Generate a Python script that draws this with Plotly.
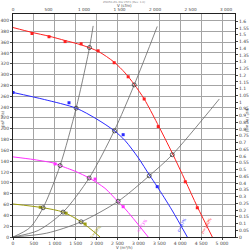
import plotly.graph_objects as go

# ---- data ----
# fan curves: volume flow V (m3/h) vs static pressure (Pa)
red_v = [0, 455, 862, 1246, 1629, 2036, 2420, 2683, 2899, 3138, 3450, 3809, 4121, 4408, 4768]
red_p = [387, 378, 371, 363, 355, 343, 323, 303, 282, 255, 210, 155, 104, 56, 0]
red_mv = [455, 862, 1246, 1629, 2036, 2420, 2755, 3138, 3474, 4121, 4408]
red_mp = [376, 370, 361, 357, 344, 322, 296, 255, 204, 102, 54]

blue_v = [0, 750, 1510, 2000, 2428, 2683, 3000, 3258, 3450, 3800, 4169]
blue_p = [267, 254, 238, 218, 196, 178, 146, 115, 93, 50, 0]
blue_mv = [0, 1340, 2635, 3450]
blue_mp = [267, 248, 189, 93]

mag_v = [0, 500, 1006, 1126, 1500, 1821, 2200, 2515, 2683, 3234]
mag_p = [148, 143, 136, 132, 121, 109, 90, 65, 52, 0]
mag_mv = [1006, 1965, 2635]
mag_mp = [135, 107, 56]

oli_v = [0, 720, 1198, 1629, 2084]
oli_p = [61, 54, 46, 28, 0]
oli_mv = [650, 1270, 1725]
oli_mp = [55, 44, 24]

# system curves (grey)
sysA_v = [0, 400, 720, 1126, 1510, 1830, 1917]
sysA_p = [0, 17, 54, 132, 238, 350, 390]
sysB_v = [0, 600, 1198, 1821, 2420, 2899, 3450]
sysB_p = [0, 12, 46, 109, 196, 281, 389]
sysC_v = [0, 800, 1629, 2515, 3258, 3809, 4935]
sysC_p = [0, 7, 28, 66, 113, 152, 255]

# operating points (intersections)
op_v = [720, 1126, 1510, 1830, 1198, 1821, 2428, 2899, 1629, 2515, 3258, 3809]
op_p = [54, 132, 238, 350, 46, 109, 196, 281, 28, 66, 113, 152]

# axis ticks
x_ticks = [0, 500, 1000, 1500, 2000, 2500, 3000, 3500, 4000, 4500, 5000]
x_labels = ["0", "500", "1 000", "1 500", "2 000", "2 500", "3 000", "3 500", "4 000", "4 500", "5 000"]
cfm_ticks = [0, 500, 1000, 1500, 2000, 2500, 3000]
cfm_labels = ["0", "500", "1 000", "1 500", "2 000", "2 500", "3 000"]
pa_ticks = list(range(0, 401, 20))
inwg_ticks = [round(i * 0.05, 2) for i in range(0, 33)]
inwg_labels = ["0"] + [("%g" % t) for t in inwg_ticks[1:]]

X_MAX = 5310
Y_MAX = 412
CFM_PER_M3H = 1 / 1.699
PA_PER_INWG = 249.09

RED = "#ff2020"
BLUE = "#2a2aff"
MAG = "#ff30ff"
OLI = "#9c9c10"
GREY = "#666666"

fig = go.Figure()

def curve(v, p, color, width=1.0):
    fig.add_trace(go.Scatter(x=v, y=p, mode="lines", line=dict(color=color, width=width, shape="spline", smoothing=0.8),
                             hoverinfo="skip", showlegend=False))

def marks(v, p, color):
    fig.add_trace(go.Scatter(x=v, y=p, mode="markers", marker=dict(symbol="square", size=3, color=color),
                             hoverinfo="skip", showlegend=False))

for v, p in [(sysA_v, sysA_p), (sysB_v, sysB_p), (sysC_v, sysC_p)]:
    curve(v, p, GREY, 0.8)

curve(red_v, red_p, RED)
curve(blue_v, blue_p, BLUE)
curve(mag_v, mag_p, MAG)
curve(oli_v, oli_p, OLI)
marks(red_mv, red_mp, RED)
marks(blue_mv, blue_mp, BLUE)
marks(mag_mv, mag_mp, MAG)
marks(oli_mv, oli_mp, OLI)

fig.add_trace(go.Scatter(x=op_v, y=op_p, mode="markers",
                         marker=dict(symbol="circle-open", size=4, color="#333333", line=dict(width=0.8)),
                         hoverinfo="skip", showlegend=False))

# invisible trace for secondary axes
fig.add_trace(go.Scatter(x=[0], y=[0], xaxis="x2", yaxis="y2", mode="markers", marker=dict(opacity=0),
                         hoverinfo="skip", showlegend=False))

tickfont = dict(family="DejaVu Sans", size=4.5, color="#444444")
toptickfont = dict(family="DejaVu Sans", size=4.2, color="#444444")
gridc = "#a4a4a4"

fig.update_layout(
    width=250, height=250,
    margin=dict(l=13, r=15, t=14, b=13, autoexpand=False),
    paper_bgcolor="white", plot_bgcolor="white",
    xaxis=dict(range=[0, X_MAX], tickvals=x_ticks, ticktext=x_labels, tickfont=tickfont,
               showgrid=True, gridcolor=gridc, gridwidth=0.8, zeroline=False,
               showline=True, linecolor="#222222", linewidth=1, mirror=False,
               ticks="outside", ticklen=2, tickcolor="#444444", tickwidth=0.6),
    xaxis2=dict(range=[0, X_MAX * CFM_PER_M3H], overlaying="x", side="top", tickvals=cfm_ticks, ticktext=cfm_labels,
                tickfont=toptickfont, showgrid=False, zeroline=False, showline=True, linecolor="#222222", linewidth=1,
                ticks="", ticklen=0),
    yaxis=dict(range=[0, Y_MAX], tickvals=pa_ticks, ticktext=[str(t) for t in pa_ticks], tickfont=tickfont,
               showgrid=True, gridcolor=gridc, gridwidth=0.8, zeroline=False,
               showline=True, linecolor="#222222", linewidth=1,
               ticks="outside", ticklen=2, tickcolor="#444444", tickwidth=0.6),
    yaxis2=dict(range=[0, Y_MAX / PA_PER_INWG], overlaying="y", side="right", tickvals=inwg_ticks, ticktext=inwg_labels,
                tickfont=tickfont, showgrid=False, zeroline=False, showline=True, linecolor="#222222", linewidth=1,
                ticks="outside", ticklen=2, tickcolor="#444444", tickwidth=0.6),
)

ann_font = dict(family="DejaVu Sans", size=4, color="#444444")
fig.add_annotation(text="V (m³/h)", xref="paper", yref="paper", x=0.5, y=-0.048, showarrow=False, font=ann_font,
                   xanchor="center", yanchor="middle")
fig.add_annotation(text="V (cfm)", xref="paper", yref="paper", x=0.5, y=1.0365, showarrow=False, font=ann_font,
                   xanchor="center", yanchor="middle")
fig.add_annotation(text="psF (Pa)", xref="paper", yref="paper", x=-0.045, y=0.53, showarrow=False,
                   font=ann_font, textangle=-90, xanchor="center", yanchor="middle")
fig.add_annotation(text="psF (in. wg)", xref="paper", yref="paper", x=1.06, y=0.52, showarrow=False,
                   font=ann_font, textangle=90, xanchor="center", yanchor="middle")
fig.add_annotation(text="ZN050-ZIL.DG.V5P1 (Rev. 1.0)", xref="paper", yref="paper", x=0.5, y=1.0535, showarrow=False,
                   font=dict(family="DejaVu Sans", size=2.8, color="#888888"), xanchor="center", yanchor="middle")

# curve end labels
end_labels = [("n=100%", 4620, 22, RED, -62), ("n=87%", 4020, 22, BLUE, -62),
              ("n=73%", 3080, 22, MAG, -55), ("n=50%", 1980, 10, OLI, -50)]
for t, vx, py, c, ang in end_labels:
    fig.add_annotation(text=t, x=vx, y=py, showarrow=False, font=dict(family="DejaVu Sans", size=4, color=c),
                       textangle=ang, xanchor="center", yanchor="middle")

fig.write_html("out.html")
